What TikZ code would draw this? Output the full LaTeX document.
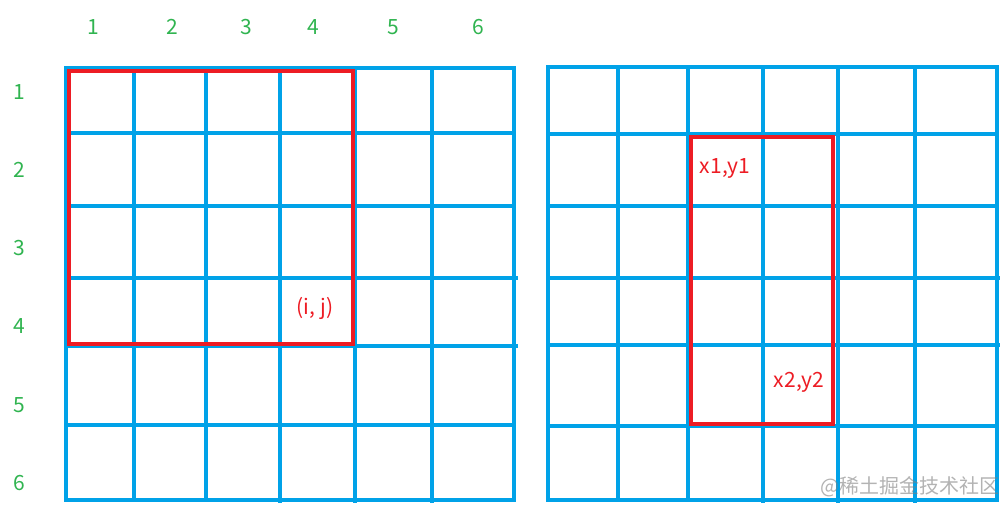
\documentclass[tikz,border=0pt]{standalone}
\usepackage{fontspec}
\setmainfont{Noto Sans CJK SC}
\newfontfamily\cjk{Noto Sans CJK SC}
\definecolor{gridblue}{RGB}{0,162,232}
\definecolor{boxred}{RGB}{237,28,36}
\definecolor{numgreen}{RGB}{48,180,80}
\begin{document}
\begin{tikzpicture}[x=1pt,y=-1pt,
  gridline/.style={draw=gridblue,line width=3.6pt},
  redbox/.style={draw=boxred,line width=4pt},
  num/.style={text=numgreen,font=\fontsize{21}{21}\selectfont,anchor=base,inner sep=0pt},
  lbl/.style={text=boxred,font=\fontsize{21}{21}\selectfont,anchor=base,inner sep=0pt}]
\useasboundingbox (0,0) rectangle (1006,509);
% left grid
\foreach \x in {134,206} \draw[gridline] (\x,68) -- (\x,500);
\foreach \x in {280,355,432} \draw[gridline] (\x,68) -- (\x,503);
\foreach \y in {133,206,425} \draw[gridline] (66,\y) -- (514,\y);
\foreach \y in {278,346} \draw[gridline] (66,\y) -- (518,\y);
\draw[gridline] (66,68) rectangle (514,500);
\draw[redbox] (69,71) rectangle (353,344);
% right grid
\foreach \x in {618,688} \draw[gridline] (\x,67) -- (\x,500);
\foreach \x in {763,838,915} \draw[gridline] (\x,67) -- (\x,503);
\foreach \y in {134,206,426} \draw[gridline] (548,\y) -- (997,\y);
\foreach \y in {278,345} \draw[gridline] (548,\y) -- (1000,\y);
\draw[gridline] (548,67) rectangle (997,500);
\draw[redbox] (691,137) rectangle (833,424);
% column numbers
\node[num] (c1) at (93,34) {1};
\node[num] (c2) at (172,34) {2};
\node[num] (c3) at (246,34) {3};
\node[num] (c4) at (313,34) {4};
\node[num] (c5) at (393,34) {5};
\node[num] (c6) at (478,34) {6};
% row numbers
\node[num] (r1) at (19,99) {1};
\node[num] (r2) at (19,177) {2};
\node[num] (r3) at (19,255) {3};
\node[num] (r4) at (19,333) {4};
\node[num] (r5) at (19,412) {5};
\node[num] (r6) at (19,490) {6};
% labels
\node[lbl] (ij) at (315,314) {(i, j)};
\node[lbl] (p1) at (725,173) {x1,y1};
\node[lbl] (p2) at (799,387) {x2,y2};
\node[anchor=base east,inner sep=0pt,text=gray,text opacity=0.6,font=\cjk\fontsize{20}{20}\selectfont] (wm) at (1000,493) {@稀土掘金技术社区};
\end{tikzpicture}
\end{document}
